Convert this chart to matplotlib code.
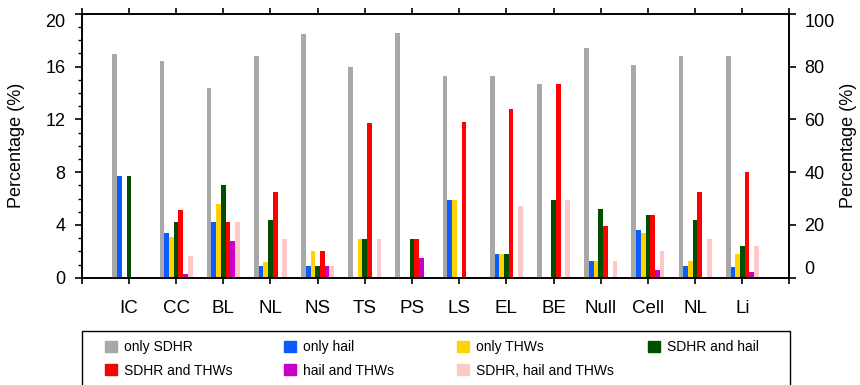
import matplotlib
matplotlib.use('Agg')
import matplotlib.pyplot as plt
import matplotlib.patches as mpatches
import numpy as np

plt.rcParams['font.family'] = ['Liberation Sans', 'DejaVu Sans']

# storm types along the x axis
cats = ['IC', 'CC', 'BL', 'NL', 'NS', 'TS', 'PS', 'LS', 'EL', 'BE', 'Null', 'Cell', 'NL', 'Li']

# share of events per type (%); only SDHR goes on the right axis
only_sdhr = [84.7, 82.1, 72.0, 84.0, 92.3, 79.8, 92.6, 76.4, 76.4, 73.5, 87.0, 80.6, 84.0, 84.0]
only_hail = [7.7, 3.4, 4.2, 0.9, 0.9, 0, 0, 5.9, 1.8, 0, 1.3, 3.6, 0.9, 0.8]
only_thws = [0, 3.1, 5.6, 1.2, 2.0, 2.9, 0, 5.9, 1.8, 0, 1.3, 3.4, 1.3, 1.8]
sdhr_hail = [7.7, 4.2, 7.0, 4.4, 0.9, 2.9, 2.9, 0, 1.8, 5.9, 5.2, 4.75, 4.4, 2.4]
sdhr_thws = [0, 5.1, 4.2, 6.5, 2.0, 11.7, 2.9, 11.8, 12.75, 14.7, 3.9, 4.75, 6.5, 8.0]
hail_thws = [0, 0.25, 2.8, 0, 0.9, 0, 1.5, 0, 0, 0, 0, 0.6, 0, 0.45]
all_three = [0, 1.65, 4.2, 2.9, 0.9, 2.9, 0, 0, 5.45, 5.9, 1.3, 2.05, 2.9, 2.4]

names = ['only SDHR', 'only hail', 'only THWs', 'SDHR and hail',
         'SDHR and THWs', 'hail and THWs', 'SDHR, hail and THWs']
colors = ['#a8a8a8', '#0a5cff', '#ffd200', '#004f00', '#ff0000', '#c800c8', '#ffc8c8']

fig = plt.figure(figsize=(8.6, 3.85), dpi=100)
W, H = 860., 385.
x0, x1, yb, yt = 81.7, 789.5, 277.7, 13.8
ax = fig.add_axes([x0/W, 1-yb/H, (x1-x0)/W, (yb-yt)/H])
ax2 = ax.twinx()

x = np.arange(len(cats))
bw = 0.1
left_series = [only_hail, only_thws, sdhr_hail, sdhr_thws, hail_thws, all_three]
ax2.bar(x - 3*bw, only_sdhr, bw, color=colors[0], linewidth=0)
for i, vals in enumerate(left_series):
    ax.bar(x + (i-2)*bw, vals, bw, color=colors[i+1], linewidth=0)

ax.set_xlim(-1, 14)
ax.set_ylim(0, 20)
ax2.set_ylim(0, 100)

ax.set_xticks(np.arange(-1, 15))
ax.set_xticklabels([''] + cats + [''])
ax.set_yticks(np.arange(0, 21, 4))
ax.set_yticks(np.arange(0, 21, 1), minor=True)
ax2.set_yticks(np.arange(0, 101, 20))

for a in (ax, ax2):
    for s in a.spines.values():
        s.set_linewidth(1.2)
ax.tick_params(axis='x', which='both', direction='out', top=True, bottom=True,
               length=4, width=1.2, labelsize=13.5, pad=12)
ax.tick_params(axis='y', which='major', direction='out', length=4.8, width=1.2,
               labelsize=13, pad=7)
ax.tick_params(axis='y', which='minor', direction='out', length=3, width=1.0)
ax2.tick_params(axis='y', which='major', direction='out', length=4.8, width=1.2,
                labelsize=13, pad=6)

# keep the end labels inside the frame
lab = ax.get_yticklabels()
lab[-1].set_va('top')
lab2 = ax2.get_yticklabels()
lab2[-1].set_va('top')
lab2[0].set_va('bottom')

ax.set_ylabel('Percentage (%)', fontsize=13)
ax2.set_ylabel('Percentage (%)', fontsize=13, rotation=90)
ax.yaxis.set_label_coords((25 - x0)/(x1 - x0), 0.5)
ax2.yaxis.set_label_coords((840 - x0)/(x1 - x0), 0.5)

# legend: open-bottomed box with four columns of entries
fig.add_artist(mpatches.Rectangle((x0/W, -0.05), (x1-x0)/W, 1-331/H+0.05,
                                  transform=fig.transFigure, fill=False,
                                  edgecolor='black', linewidth=1.0))
handles = [mpatches.Patch(color=c) for c in colors]
cols = [[0, 4], [1, 5], [2, 6], [3]]
col_x = [105, 284, 457, 648]
for cx, idx in zip(col_x, cols):
    fig.legend([handles[k] for k in idx], [names[k] for k in idx],
               loc='upper left', bbox_to_anchor=(cx/W, 1-340/H),
               frameon=False, fontsize=10, borderpad=0, borderaxespad=0,
               handlelength=0.85, handleheight=0.85, handletextpad=0.55,
               labelspacing=0.7)

fig.savefig('out.png', dpi=100)
